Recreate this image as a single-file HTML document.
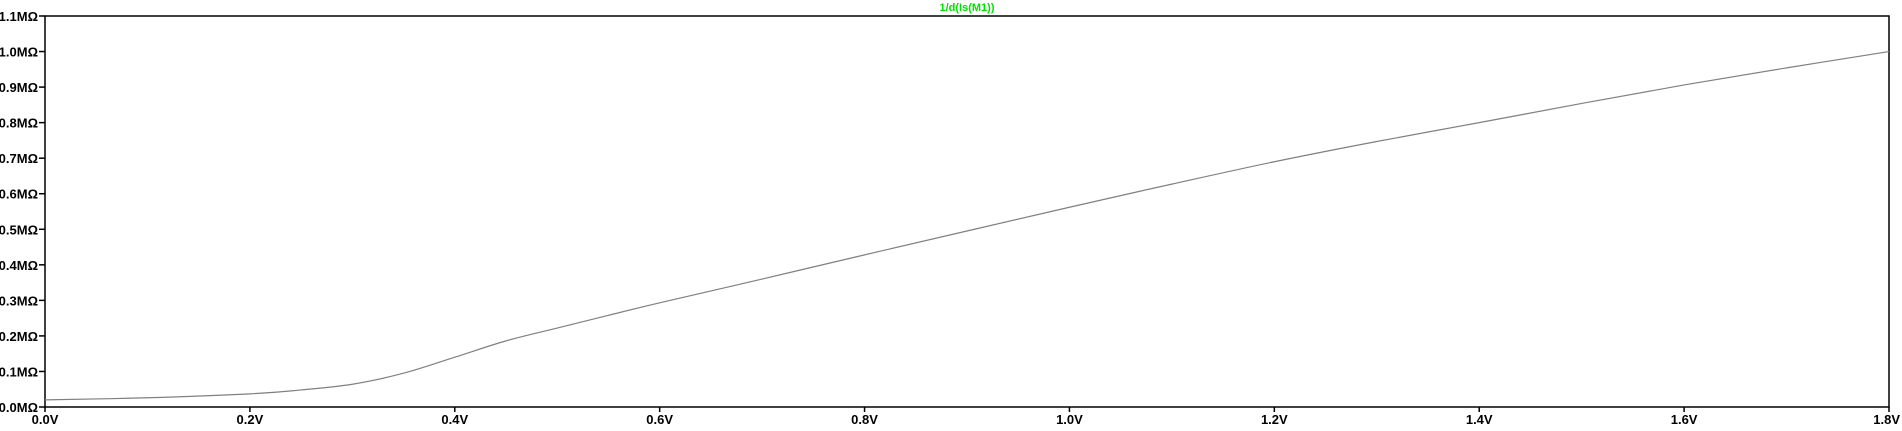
<!DOCTYPE html>
<html><head><meta charset="utf-8"><style>
html,body{margin:0;padding:0;background:#fff;width:1902px;height:431px;overflow:hidden}
svg text{font-family:"Liberation Sans",sans-serif;font-weight:bold;font-size:13px}
</style></head><body>
<svg id="chart" width="1902" height="431" xmlns="http://www.w3.org/2000/svg">
<text x="967" y="11" text-anchor="middle" fill="#00e000" style="font-size:11px">1/d(Is(M1))</text>
<rect x="45" y="16" width="1844" height="391" fill="none" stroke="#000" stroke-width="1.5"/>
<g id="axes"></g>
<path id="curve" fill="none" stroke="#808080" stroke-width="1.2"/>
</svg>
<script>
const xVolts=[0,0.1,0.2,0.25,0.3,0.35,0.4,0.45,0.5,0.55,0.6,0.7,0.8,1.0,1.1,1.2,1.3,1.4,1.5,1.6,1.7,1.8];
const yMohm=[0.02,0.026,0.037,0.048,0.064,0.095,0.14,0.186,0.222,0.258,0.293,0.36,0.428,0.562,0.627,0.69,0.747,0.80,0.854,0.906,0.954,1.0];
const xTicks=[0,0.2,0.4,0.6,0.8,1.0,1.2,1.4,1.6,1.8];
const xTickLabels=["0.0V","0.2V","0.4V","0.6V","0.8V","1.0V","1.2V","1.4V","1.6V","1.8V"];
const yTicks=[0,0.1,0.2,0.3,0.4,0.5,0.6,0.7,0.8,0.9,1.0,1.1];
const yTickLabels=["0.0MΩ","0.1MΩ","0.2MΩ","0.3MΩ","0.4MΩ","0.5MΩ","0.6MΩ","0.7MΩ","0.8MΩ","0.9MΩ","1.0MΩ","1.1MΩ"];
const L=45,R=1889,T=16,B=407;
const sx=v=>L+(v-0)/(1.8)*(R-L);
const sy=v=>B-(v/1.1)*(B-T);
const NS="http://www.w3.org/2000/svg";
const g=document.getElementById('axes');
function mk(tag,attrs){const e=document.createElementNS(NS,tag);for(const k in attrs)e.setAttribute(k,attrs[k]);g.appendChild(e);return e;}
xTicks.forEach((v,i)=>{
 const x=sx(v);
 const t=mk('line',{x1:x,x2:x,y1:B,y2:B+5,stroke:'#000','stroke-width':1.5});
 
 
 const last=i===xTicks.length-1;
 const lb=mk('text',{x:last?1900:x,y:424,'text-anchor':last?'end':'middle',fill:'#000'});
 lb.textContent=xTickLabels[i];
 
 
});
yTicks.forEach((v,i)=>{
 const y=sy(v);
 const t=mk('line',{x1:L-6,x2:L,y1:y,y2:y,stroke:'#000','stroke-width':1.5});
 
 
 const lb=mk('text',{x:L-7,y:y+5,'text-anchor':'end',fill:'#000'});
 lb.textContent=yTickLabels[i];
 
 
});
const pts=xVolts.map((v,i)=>[sx(v),sy(yMohm[i])]);
let d='M'+pts[0][0]+','+pts[0][1];
for(let i=0;i<pts.length-1;i++){
 const p0=pts[Math.max(0,i-1)],p1=pts[i],p2=pts[i+1],p3=pts[Math.min(pts.length-1,i+2)];
 const c1=[p1[0]+(p2[0]-p0[0])/6,p1[1]+(p2[1]-p0[1])/6];
 const c2=[p2[0]-(p3[0]-p1[0])/6,p2[1]-(p3[1]-p1[1])/6];
 d+=` C${c1[0]},${c1[1]} ${c2[0]},${c2[1]} ${p2[0]},${p2[1]}`;
}
document.getElementById('curve').setAttribute('d',d);
</script>
</body></html>
